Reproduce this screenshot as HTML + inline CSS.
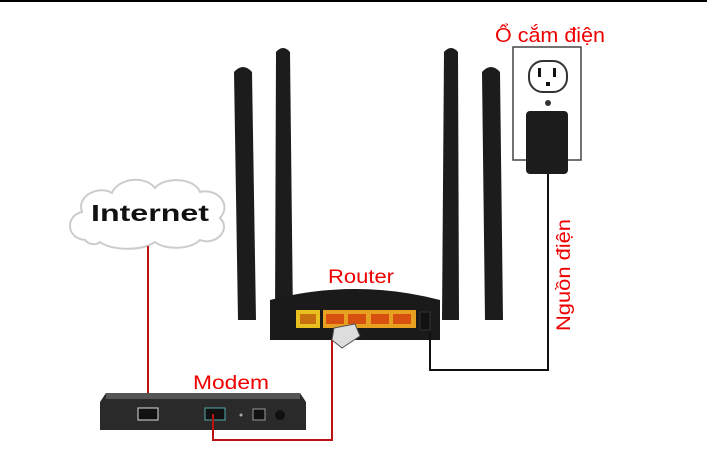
<!DOCTYPE html>
<html><head><meta charset="utf-8"><style>
html,body{margin:0;padding:0;background:#fff;}
svg{display:block}
text{font-family:"Liberation Sans","DejaVu Sans",sans-serif}
</style></head><body>
<svg width="707" height="459" viewBox="0 0 707 459" xmlns="http://www.w3.org/2000/svg">
<rect x="0" y="0" width="707" height="2" fill="#000"/>
<!-- cloud -->
<g fill="#fff" stroke="#ccc" stroke-width="2">
<path d="M85,240 C65,238 66,215 82,212 C76,195 100,185 112,193 C118,178 145,175 155,188 C165,176 195,178 200,192 C218,188 232,205 220,218 C232,230 215,246 200,240 C190,250 165,250 155,242 C140,252 110,250 100,242 C95,246 88,244 85,240 Z"/>
</g>
<text x="150" y="221" font-size="23" font-weight="bold" text-anchor="middle" fill="#111" textLength="118" lengthAdjust="spacingAndGlyphs">Internet</text>
<line x1="148" y1="246" x2="148" y2="412" stroke="#b11" stroke-width="2"/>
<!-- modem -->
<path d="M106,393 L300,393 L306,402 L306,430 L100,430 L100,402 Z" fill="#2a2a2a"/>
<rect x="106" y="393" width="194" height="6" fill="#555"/>
<rect x="138" y="408" width="20" height="12" fill="#111" stroke="#ddd" stroke-width="1"/>
<rect x="205" y="408" width="20" height="12" fill="#111" stroke="#5aa" stroke-width="1"/>
<circle cx="241" cy="415" r="1.5" fill="#aaa"/>
<rect x="253" y="409" width="12" height="11" fill="#111" stroke="#999"/>
<circle cx="280" cy="415" r="5" fill="#111"/>
<text x="231" y="389" font-size="19" fill="#e00" text-anchor="middle" textLength="76" lengthAdjust="spacingAndGlyphs">Modem</text>
<path d="M213,414 L213,440 L332,440 L332,340" fill="none" stroke="#b11" stroke-width="2"/>
<!-- antennas -->
<path d="M234,72 Q243,62 252,72 L256,320 L238,320 Z" fill="#1c1c1c"/>
<path d="M276,52 Q283,44 290,52 L293,320 L275,320 Z" fill="#1c1c1c"/>
<path d="M444,52 Q451,44 458,52 L459,320 L442,320 Z" fill="#1c1c1c"/>
<path d="M482,72 Q491,62 500,72 L503,320 L485,320 Z" fill="#1c1c1c"/>
<!-- router body -->
<path d="M270,300 Q355,278 440,300 L440,340 L270,340 Z" fill="#1a1a1a"/>
<rect x="296" y="310" width="24" height="18" fill="#e8c020"/>
<rect x="300" y="314" width="16" height="10" fill="#c87010"/>
<rect x="323" y="310" width="93" height="18" fill="#e8a020"/>
<g fill="#d85010"><rect x="326" y="314" width="18" height="10"/><rect x="348" y="314" width="18" height="10"/><rect x="371" y="314" width="18" height="10"/><rect x="393" y="314" width="18" height="10"/></g>
<rect x="420" y="312" width="10" height="18" fill="#111" stroke="#333"/>
<path d="M334,328 L355,324 L360,336 L342,348 L332,340 Z" fill="#ddd" stroke="#555"/>
<text x="361" y="283" font-size="19" fill="#e00" text-anchor="middle" textLength="66" lengthAdjust="spacingAndGlyphs">Router</text>
<!-- outlet -->
<rect x="513" y="47" width="68" height="113" fill="#fff" stroke="#444" stroke-width="1.5"/>
<rect x="529" y="61" width="38" height="31" rx="14" fill="#fff" stroke="#333" stroke-width="2"/>
<rect x="538" y="68" width="3" height="9" fill="#111"/><rect x="553" y="68" width="3" height="9" fill="#111"/>
<rect x="546" y="82" width="4" height="4" fill="#111"/>
<circle cx="548" cy="103" r="3" fill="#333"/>
<rect x="526" y="111" width="42" height="63" rx="4" fill="#1c1c1c"/>
<path d="M548,174 L548,370 L430,370 L430,332" fill="none" stroke="#111" stroke-width="2"/>
<text x="550" y="42" font-size="20" fill="#e00" text-anchor="middle" textLength="110" lengthAdjust="spacingAndGlyphs">Ổ cắm điện</text>
<text transform="translate(570,275) rotate(-90)" font-size="19" fill="#e00" text-anchor="middle" textLength="112" lengthAdjust="spacingAndGlyphs">Nguồn điện</text>
</svg>
</body></html>
